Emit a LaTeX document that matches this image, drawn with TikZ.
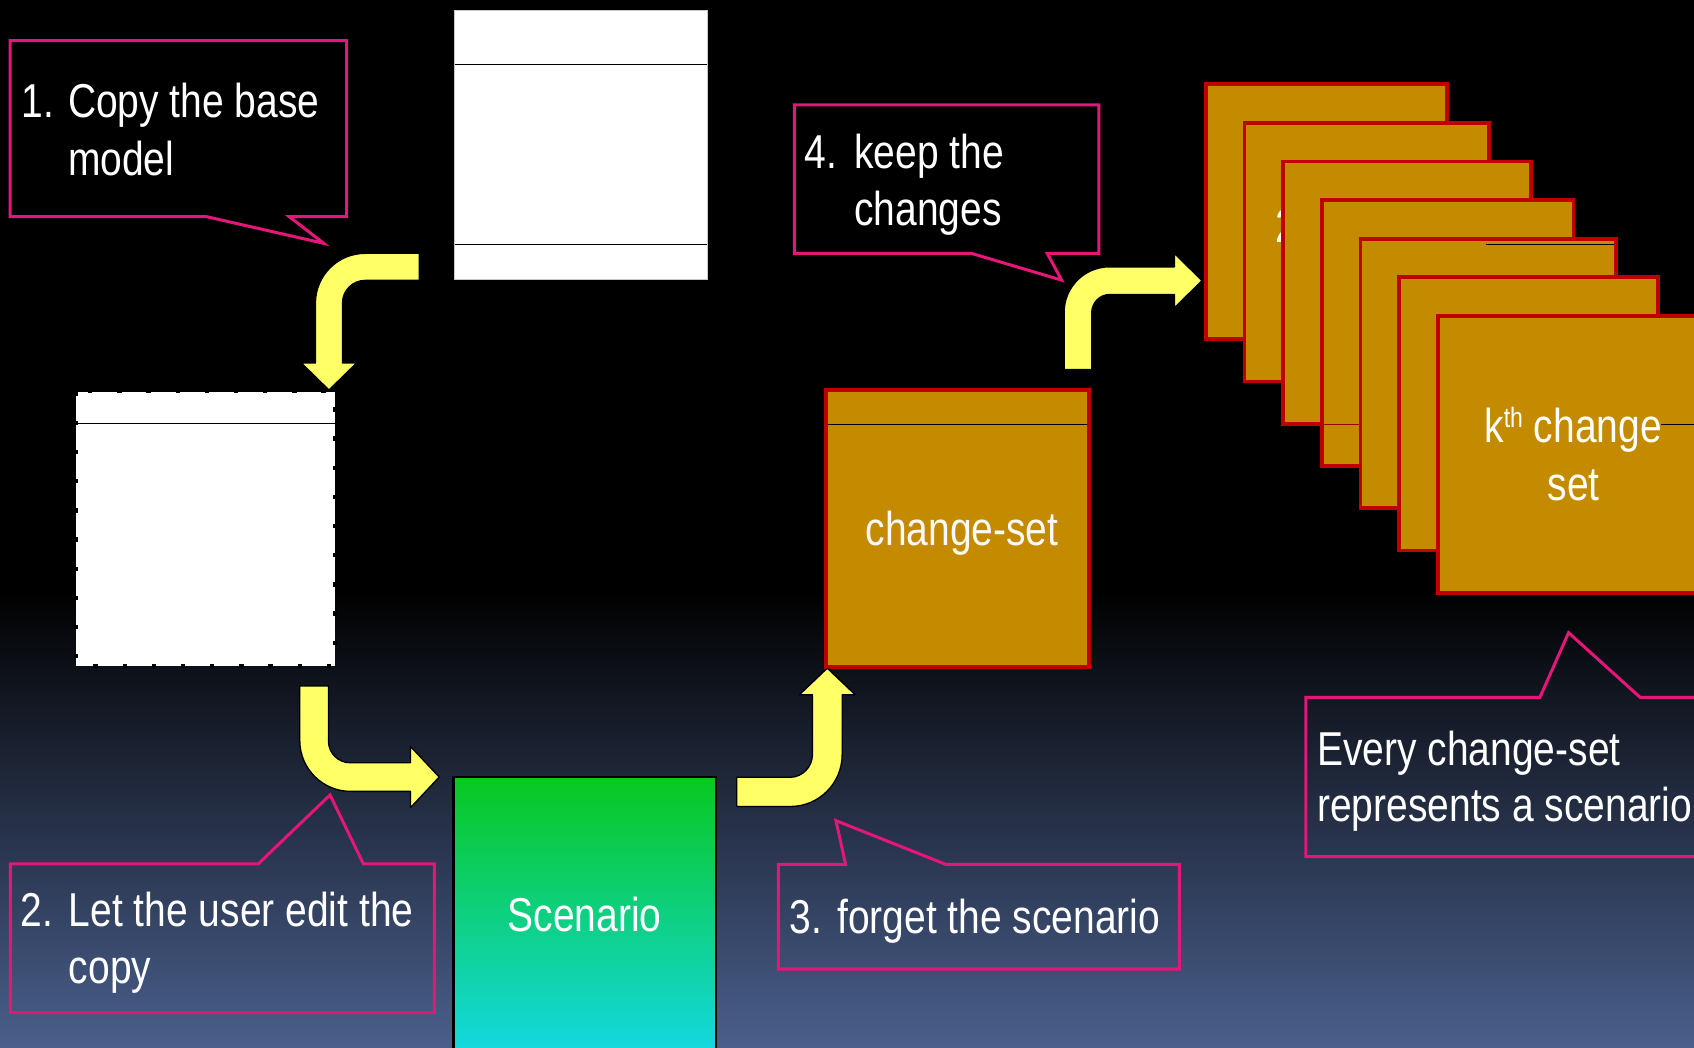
\documentclass[tikz,border=0pt]{standalone}
\usepackage{fontspec}
\newfontfamily\narrowsans[FakeStretch=0.82]{Liberation Sans}
\definecolor{bgbottom}{RGB}{74,95,140}
\definecolor{gold}{RGB}{196,138,0}
\definecolor{boxred}{RGB}{192,0,0}
\definecolor{calloutpink}{RGB}{228,22,120}
\definecolor{arrowyellow}{RGB}{255,255,102}
\definecolor{scentop}{RGB}{8,200,32}
\definecolor{scenbot}{RGB}{20,216,226}
\definecolor{framegray}{RGB}{200,200,200}
\begin{document}
\begin{tikzpicture}[x=1pt,y=-1pt,
  txt/.style={inner sep=0pt, outer sep=0pt, text=white,
    font=\narrowsans\fontsize{44}{53}\selectfont},
  modelbox/.style={rectangle, fill=white, draw=framegray, line width=0.8pt,
    inner sep=0pt, outer sep=0pt},
  csbox/.style={rectangle, fill=gold, draw=boxred, line width=3.5pt,
    inner sep=0pt, outer sep=0pt},
  callout/.style={draw=calloutpink, line width=2.8pt, line join=miter},
  bentarrow/.style={fill=arrowyellow, draw=black, line width=1.2pt, line join=round},
  sepline/.style={black, line width=0.9pt}]

\useasboundingbox (0,0) rectangle (1568,970);
\begin{scope}
\clip (0,0) rectangle (1568,970);

% background: black fading into slate blue towards the bottom
\fill[black] (0,0) rectangle (1568,970);
\fill[top color=black, bottom color=bgbottom] (0,545) rectangle (1568,970);

% base model
\node[modelbox, minimum width=233.7pt, minimum height=248.9pt] (base) at (537.55,133.75) {};
\draw[sepline] (420.7,59.5) -- (654.4,59.5);
\draw[sepline] (420.7,226.1) -- (654.4,226.1);

% copy of the model (dashed frame)
\node[rectangle, fill=white, inner sep=0pt, outer sep=0pt,
      minimum width=239.7pt, minimum height=253.9pt] (copy) at (190.15,489.45) {};
\draw[black, line width=3pt, dash pattern=on 4pt off 23pt]
  (copy.north west) rectangle (copy.south east);
\draw[sepline] (70.3,392.4) -- (310,392.4);

% scenario
\node[rectangle, top color=scentop, bottom color=scenbot, draw=black, line width=2pt,
      inner sep=0pt, outer sep=0pt, minimum width=242.8pt, minimum height=255.5pt]
      (scen) at (541.2,847.25) {};
\node[txt, anchor=base] (scenlbl) at (541,862.3) {Scenario};

% change-set
\node[csbox, minimum width=243.8pt, minimum height=256.7pt] (cset) at (886.1,489.35) {};
\draw[sepline] (766,392.8) -- (1006,392.8);
\node[txt, anchor=base, text=white!95!gray] (csetlbl) at (890.5,504.5) {change-set};

% stack of change-sets
\node[csbox, minimum width=222.8pt, minimum height=236pt]    (cs1) at (1227.6,196) {};
\node[csbox, minimum width=226.2pt, minimum height=239.35pt] (cs2) at (1265.1,233.4) {};
\node[txt, anchor=base west] (cs2lbl) at (1181,224) {2};
\node[csbox, minimum width=229.6pt, minimum height=242.7pt]  (cs3) at (1302.5,270.85) {};
\node[csbox, minimum width=233pt,   minimum height=246.05pt] (cs4) at (1340,308.3) {};
\draw[boxred!80!black, line width=0.8pt] (1225,392.5) -- (1455,392.5);
\node[csbox, minimum width=236.5pt, minimum height=249.4pt]  (cs5) at (1377.45,345.7) {};
\draw[black, line width=0.8pt] (1375,226.5) -- (1494,226.5);
\node[csbox, minimum width=239.9pt, minimum height=252.75pt] (cs6) at (1414.95,383.1) {};
\node[csbox, minimum width=243.3pt, minimum height=256.2pt]  (cs7) at (1452.35,420.6) {};
\draw[black, line width=0.8pt] (1537,392.5) -- (1574,392.5);
\node[txt, anchor=base] (cs7lbl1) at (1456,410)
  {k\raisebox{14pt}{\fontsize{26}{28}\selectfont th} change};
\node[txt, anchor=base] (cs7lbl2) at (1456.7,463) {set};

% bent arrows
% base model -> copy
\draw[bentarrow] (388,234.5) -- (338,234.5)
  .. controls (312.6,234.5) and (292,255.1) .. (292,280.5)
  -- (292,336) -- (279,336) -- (304.5,361) -- (330,336) -- (317,336) -- (317,280.5)
  .. controls (317,268.9) and (326.4,259.5) .. (338,259.5)
  -- (388,259.5) -- cycle;
% copy -> scenario
\draw[bentarrow] (277.5,635) -- (277.5,685.5)
  .. controls (277.5,711.4) and (298.6,732.5) .. (324.5,732.5)
  -- (380,732.5) -- (380,747.5) -- (406.5,719.25) -- (380,691) -- (380,706)
  -- (324,706) .. controls (313,706) and (304,697) .. (304,686)
  -- (304,635) -- cycle;
% scenario -> change-set
\draw[bentarrow] (682,719.5) -- (731,719.5)
  .. controls (742.6,719.5) and (752,709.9) .. (752,698.5)
  -- (752,643) -- (740,643) -- (765.75,618.5) -- (791.5,643) -- (779.5,643)
  -- (779.5,698.5) .. controls (779.5,725) and (758,746.5) .. (731.5,746.5)
  -- (682,746.5) -- cycle;
% change-set -> stack
\draw[bentarrow] (985,342) -- (985,289)
  .. controls (985,265.8) and (1003.8,247) .. (1027,247)
  -- (1087,247) -- (1087,234.5) -- (1112.5,259.75) -- (1087,285) -- (1087,272.5)
  -- (1027.5,272.5) .. controls (1018.1,272.5) and (1010.5,280.1) .. (1010.5,289.5)
  -- (1010.5,342) -- cycle;

% callouts
\draw[callout] (9.4,37.6) -- (320.8,37.6) -- (320.8,200.5) -- (267.7,200.5)
  -- (299.6,225.2) -- (191,200.5) -- (9.4,200.5) -- cycle;
\node[txt, anchor=base west] (c1n)  at (20,108.6) {1.};
\node[txt, anchor=base west] (c1a)  at (63,108.6) {Copy the base};
\node[txt, anchor=base west] (c1b)  at (63,162) {model};

\draw[callout] (735.2,97.1) -- (1017.2,97.1) -- (1017.2,234.6) -- (969.4,234.6)
  -- (982.7,259.3) -- (899.4,234.6) -- (735.2,234.6) -- cycle;
\node[txt, anchor=base west] (c4n)  at (744.5,156.2) {4.};
\node[txt, anchor=base west] (c4a)  at (790.8,156.2) {keep the};
\node[txt, anchor=base west] (c4b)  at (790.8,208.6) {changes};

\draw[callout] (9.6,799.7) -- (239,799.7) -- (305.5,735.8) -- (336.4,799.7)
  -- (402,799.7) -- (402,937.3) -- (9.6,937.3) -- cycle;
\node[txt, anchor=base west] (c2n)  at (19,857.7) {2.};
\node[txt, anchor=base west] (c2a)  at (63.8,857.7) {Let the user edit the};
\node[txt, anchor=base west] (c2b)  at (63.8,910.2) {copy};

\draw[callout] (720.4,800) -- (782.7,800) -- (773.8,759.6) -- (875.3,800)
  -- (1091.6,800) -- (1091.6,896.9) -- (720.4,896.9) -- cycle;
\node[txt, anchor=base west] (c3n)  at (731.2,864.5) {3.};
\node[txt, anchor=base west] (c3a)  at (775,864.5) {forget the scenario};

\draw[callout] (1208.8,645.4) -- (1425.4,645.4) -- (1451.9,585.6) -- (1518,645.4)
  -- (1600,645.4) -- (1600,792.9) -- (1208.8,792.9) -- cycle;
\node[txt, anchor=base west] (c5a)  at (1219.3,708.7) {Every change-set};
\node[txt, anchor=base west] (c5b)  at (1219.3,760.5) {represents a scenario};
\end{scope}
\end{tikzpicture}
\end{document}
